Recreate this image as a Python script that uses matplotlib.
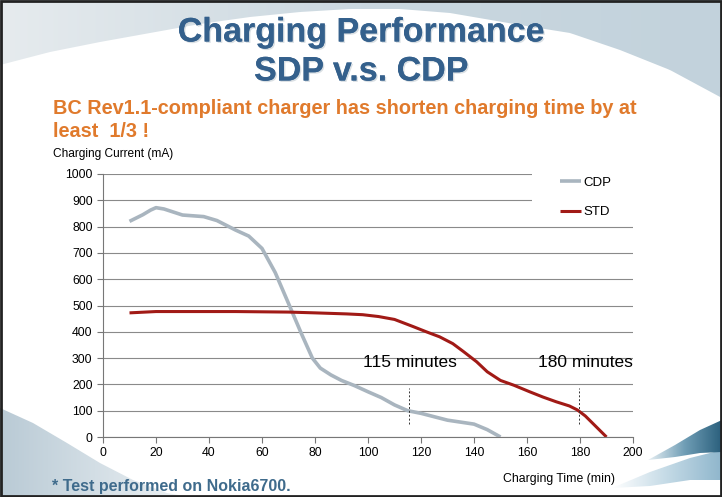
#!/usr/bin/python3

import matplotlib
matplotlib.use('Agg')
import matplotlib.pyplot as plt
import matplotlib.patheffects as pe
from matplotlib.patches import Polygon, Rectangle
import numpy

plt.rcParams['font.family'] = ['Liberation Sans', 'DejaVu Sans']

# charging curves
cdp_time = [10, 15, 18, 20, 23, 30, 38, 43, 50, 55, 60, 65, 70, 75, 79, 82, 86,
            90, 95, 100, 105, 110, 115, 120, 125, 130, 134, 140, 145, 150]
cdp_current = [820, 845, 863, 872, 867, 844, 838, 823, 787, 764, 717, 625, 508, 390,
               300, 262, 236, 215, 195, 172, 150, 122, 100, 90, 77, 64, 58, 49, 28, 0]

std_time = [10, 20, 30, 40, 50, 60, 70, 80, 86, 92, 98, 104, 110, 117, 122, 127,
            132, 136, 141, 145, 150, 155, 161, 166, 171, 176, 179, 182, 186, 190]
std_current = [472, 477, 477, 477, 477, 476, 475, 472, 470, 468, 465, 458, 447, 420,
               400, 381, 355, 325, 286, 248, 215, 197, 172, 152, 134, 118, 103, 80, 40, 0]

marker_times = [115.5, 179.5]
marker_labels = ['115 minutes', '180 minutes']
marker_label_x = [116, 182]

x_ticks = list(range(0, 201, 20))
y_ticks = list(range(0, 1001, 100))

W, H = 722, 497

fig = plt.figure(figsize=(W / 100, H / 100), dpi=100)
fig.patch.set_facecolor('white')

# slide background (pixel coords)
bg = fig.add_axes([0, 0, 1, 1], zorder=-5)
bg.set_xlim(0, W)
bg.set_ylim(H, 0)
bg.axis('off')

grad = numpy.linspace(0, 1, 256).reshape(1, -1)


def grad_fill(pts, colors, extent):
    poly = Polygon(pts, closed=True, facecolor='none', edgecolor='none')
    bg.add_patch(poly)
    cmap = matplotlib.colors.LinearSegmentedColormap.from_list('g', colors)
    im = bg.imshow(grad, extent=extent, cmap=cmap, aspect='auto', zorder=0)
    im.set_clip_path(poly)


bx = numpy.array([0, 50, 100, 150, 200, 250, 300, 350, 400, 450, 520, 570, 620, 670, 722])
by = numpy.array([65, 52, 42, 33, 24, 17, 12, 9, 9, 13, 25, 33, 50, 70, 98])
xs = numpy.linspace(0, W, 200)
ys = numpy.interp(xs, bx, by)
grad_fill(list(zip(xs, ys)) + [(W, 0), (0, 0)], ['#e6ebee', '#cbd8e0', '#c2d2dc'], [0, W, 110, 0])

grad_fill([(0, 408), (33, 423), (67, 443), (100, 463), (133, 480), (167, 493), (190, 497), (0, 497)],
          ['#b9cad5', '#d3dee5', '#eef2f4'], [0, 190, H, 400])

# swoosh bottom right
grad_fill([(612, 488), (650, 472), (690, 458), (722, 450), (722, 480), (690, 480), (650, 486)],
          ['#ffffff', '#c4dae6', '#8fb6cc'], [612, W, H, 440])
grad_fill([(648, 460), (675, 445), (700, 430), (722, 420), (722, 452), (700, 453), (675, 457)],
          ['#e8f0f4', '#6f9db5', '#2a5f7c'], [648, W, H, 410])
bg.add_patch(Rectangle((0.5, 0.5), W - 1.5, H - 1.5, facecolor='none', edgecolor='#222222', linewidth=2))

# titles
shadow = [pe.withSimplePatchShadow(offset=(1, -1), shadow_rgbFace='#b5c0c9', alpha=0.5), pe.Normal()]
fig.text(0.5, 1 - 33 / H, 'Charging Performance', ha='center', va='center',
         fontsize=24.5, fontweight='bold', color='#34608c', path_effects=shadow)
fig.text(0.5, 1 - 72 / H, 'SDP v.s. CDP', ha='center', va='center',
         fontsize=24.5, fontweight='bold', color='#34608c', path_effects=shadow)
fig.text(53 / W, 1 - 108 / H, 'BC Rev1.1-compliant charger has shorten charging time by at',
         ha='left', va='center', fontsize=14.3, fontweight='bold', color='#e07a2c')
fig.text(53 / W, 1 - 131 / H, 'least  1/3 !',
         ha='left', va='center', fontsize=14.3, fontweight='bold', color='#e07a2c')
fig.text(53 / W, 1 - 154 / H, 'Charging Current (mA)', ha='left', va='center', fontsize=8.6)
fig.text(503 / W, 1 - 479 / H, 'Charging Time (min)', ha='left', va='center', fontsize=8.8)
fig.text(52 / W, 1 - 486 / H, '* Test performed on Nokia6700.', ha='left', va='center',
         fontsize=11.5, fontweight='bold', color='#3f6b8c')

ax = fig.add_axes([103 / W, 1 - 437 / H, 530 / W, 263 / H])
ax.patch.set_alpha(0)
ax.set_xlim(0, 200)
ax.set_ylim(0, 1000)
ax.set_xticks(x_ticks)
ax.set_yticks(y_ticks)
ax.tick_params(labelsize=8.8, length=4, color='#777777', width=0.8)
for s in ['top', 'right']:
    ax.spines[s].set_visible(False)
for s in ['left', 'bottom']:
    ax.spines[s].set_color('#777777')
    ax.spines[s].set_linewidth(0.8)
ax.grid(axis='y', color='#8a8a8a', linewidth=0.8)
ax.set_axisbelow(True)

ax.plot(cdp_time, cdp_current, color='#a9b5bf', linewidth=2.6, label='CDP', solid_capstyle='butt')
ax.plot(std_time, std_current, color='#a11a16', linewidth=2.2, label='STD', solid_capstyle='butt')

ax.vlines(marker_times, 50, 185, colors='#333333', linestyles=(0, (2, 2)), linewidth=0.7)
for xm, lab in zip(marker_label_x, marker_labels):
    ax.text(xm, 282, lab, ha='center', va='center', fontsize=12.5)

# white legend box hides the top gridlines on the right
ax.add_patch(Rectangle((0.809, 0.82), 0.2, 0.2, transform=ax.transAxes, facecolor='white',
                       edgecolor='none', clip_on=False, zorder=1.5))
leg = ax.legend(loc='upper left', bbox_to_anchor=(0.834, 1.045), frameon=False, fontsize=9.5,
                handlelength=1.6, handletextpad=0.2, labelspacing=1.3, borderpad=0.6)

fig.savefig('out.png', dpi=100)
